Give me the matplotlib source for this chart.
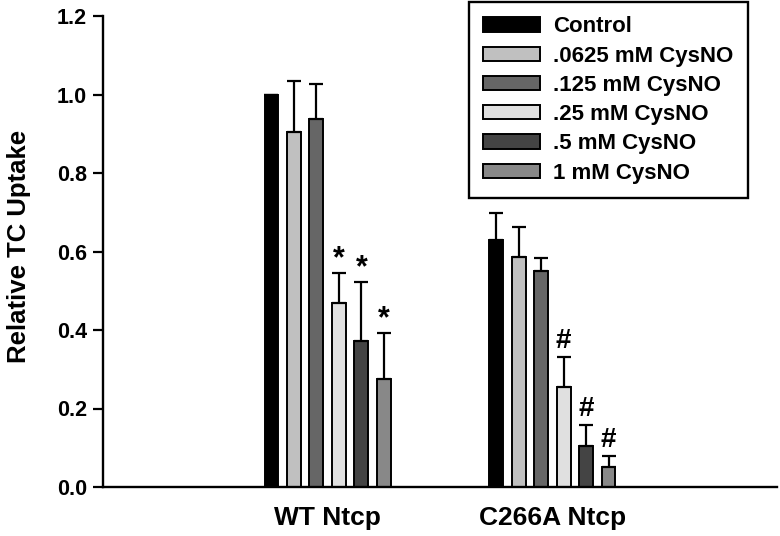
import matplotlib
matplotlib.use("Agg")
import matplotlib.pyplot as plt
import numpy as np

plt.rcParams['font.family'] = ['Liberation Sans', 'DejaVu Sans']
plt.rcParams['font.weight'] = 'bold'

groups = ['WT Ntcp', 'C266A Ntcp']
labels = ['Control', '.0625 mM CysNO', '.125 mM CysNO', '.25 mM CysNO',
          '.5 mM CysNO', '1 mM CysNO']
colors = ['#000000', '#c0c0c0', '#666666', '#e0e0e0', '#444444', '#888888']

wt_mean = [1.0, 0.905, 0.938, 0.47, 0.373, 0.275]
wt_err = [0.0, 0.13, 0.09, 0.076, 0.149, 0.117]
c266a_mean = [0.629, 0.585, 0.551, 0.256, 0.104, 0.05]
c266a_err = [0.07, 0.078, 0.033, 0.074, 0.054, 0.029]
wt_marks = ['', '', '', '*', '*', '*']
c266a_marks = ['', '', '', '#', '#', '#']

means = np.array([wt_mean, c266a_mean])
errs = np.array([wt_err, c266a_err])
marks = [wt_marks, c266a_marks]

fig = plt.figure(figsize=(7.8, 5.36), dpi=100)
ax = fig.add_axes([103 / 780, 49 / 536, 674 / 780, 471 / 536])

x = np.arange(len(groups))
pitch = 0.1
width = 0.062
for i, lab in enumerate(labels):
    pos = x + (i - 2.5) * pitch
    ax.bar(pos, means[:, i], width, color=colors[i], edgecolor='black',
           linewidth=1.4, label=lab,
           yerr=[np.zeros(len(groups)), errs[:, i]],
           error_kw=dict(ecolor='black', elinewidth=1.6, capsize=5.2, capthick=1.6))
    for g in range(len(groups)):
        m = marks[g][i]
        if m == '*':
            ax.annotate(m, (pos[g], means[g, i] + errs[g, i]), xytext=(0, 4),
                        textcoords='offset points', ha='center', va='baseline',
                        fontsize=22, fontweight='bold')
        elif m:
            ax.annotate(m, (pos[g], means[g, i] + errs[g, i]), xytext=(0, 6.5),
                        textcoords='offset points', ha='center', va='baseline',
                        fontsize=20, fontweight='bold')

ax.set_xlim(-1, 2)
ax.set_ylim(0, 1.2)
ax.set_yticks(np.arange(0, 1.21, 0.2))
ax.set_yticklabels(['%.1f' % v for v in np.arange(0, 1.21, 0.2)], fontsize=15.5, fontweight='bold')
ax.set_xticks(x)
ax.set_xticklabels(groups, fontsize=19, fontweight='bold')
ax.tick_params(axis='x', length=0, pad=14)
ax.tick_params(axis='y', length=7.5, width=1.6, pad=4, direction='out')
for s in ['top', 'right']:
    ax.spines[s].set_visible(False)
for s in ['left', 'bottom']:
    ax.spines[s].set_linewidth(1.7)

ax.set_ylabel('Relative TC Uptake', fontsize=18.5, fontweight='bold')
ax.yaxis.set_label_coords(-0.107, 0.51)

leg = ax.legend(loc='upper right', bbox_to_anchor=(748 / 780, 1 - 2 / 536),
                bbox_transform=fig.transFigure, fancybox=False, framealpha=1,
                edgecolor='black', prop={'size': 16, 'weight': 'bold'},
                handlelength=2.55, handleheight=0.62, handletextpad=0.6,
                labelspacing=0.37, borderpad=0.65, borderaxespad=0)
leg.get_frame().set_linewidth(1.7)

fig.savefig('out.png', dpi=100)
